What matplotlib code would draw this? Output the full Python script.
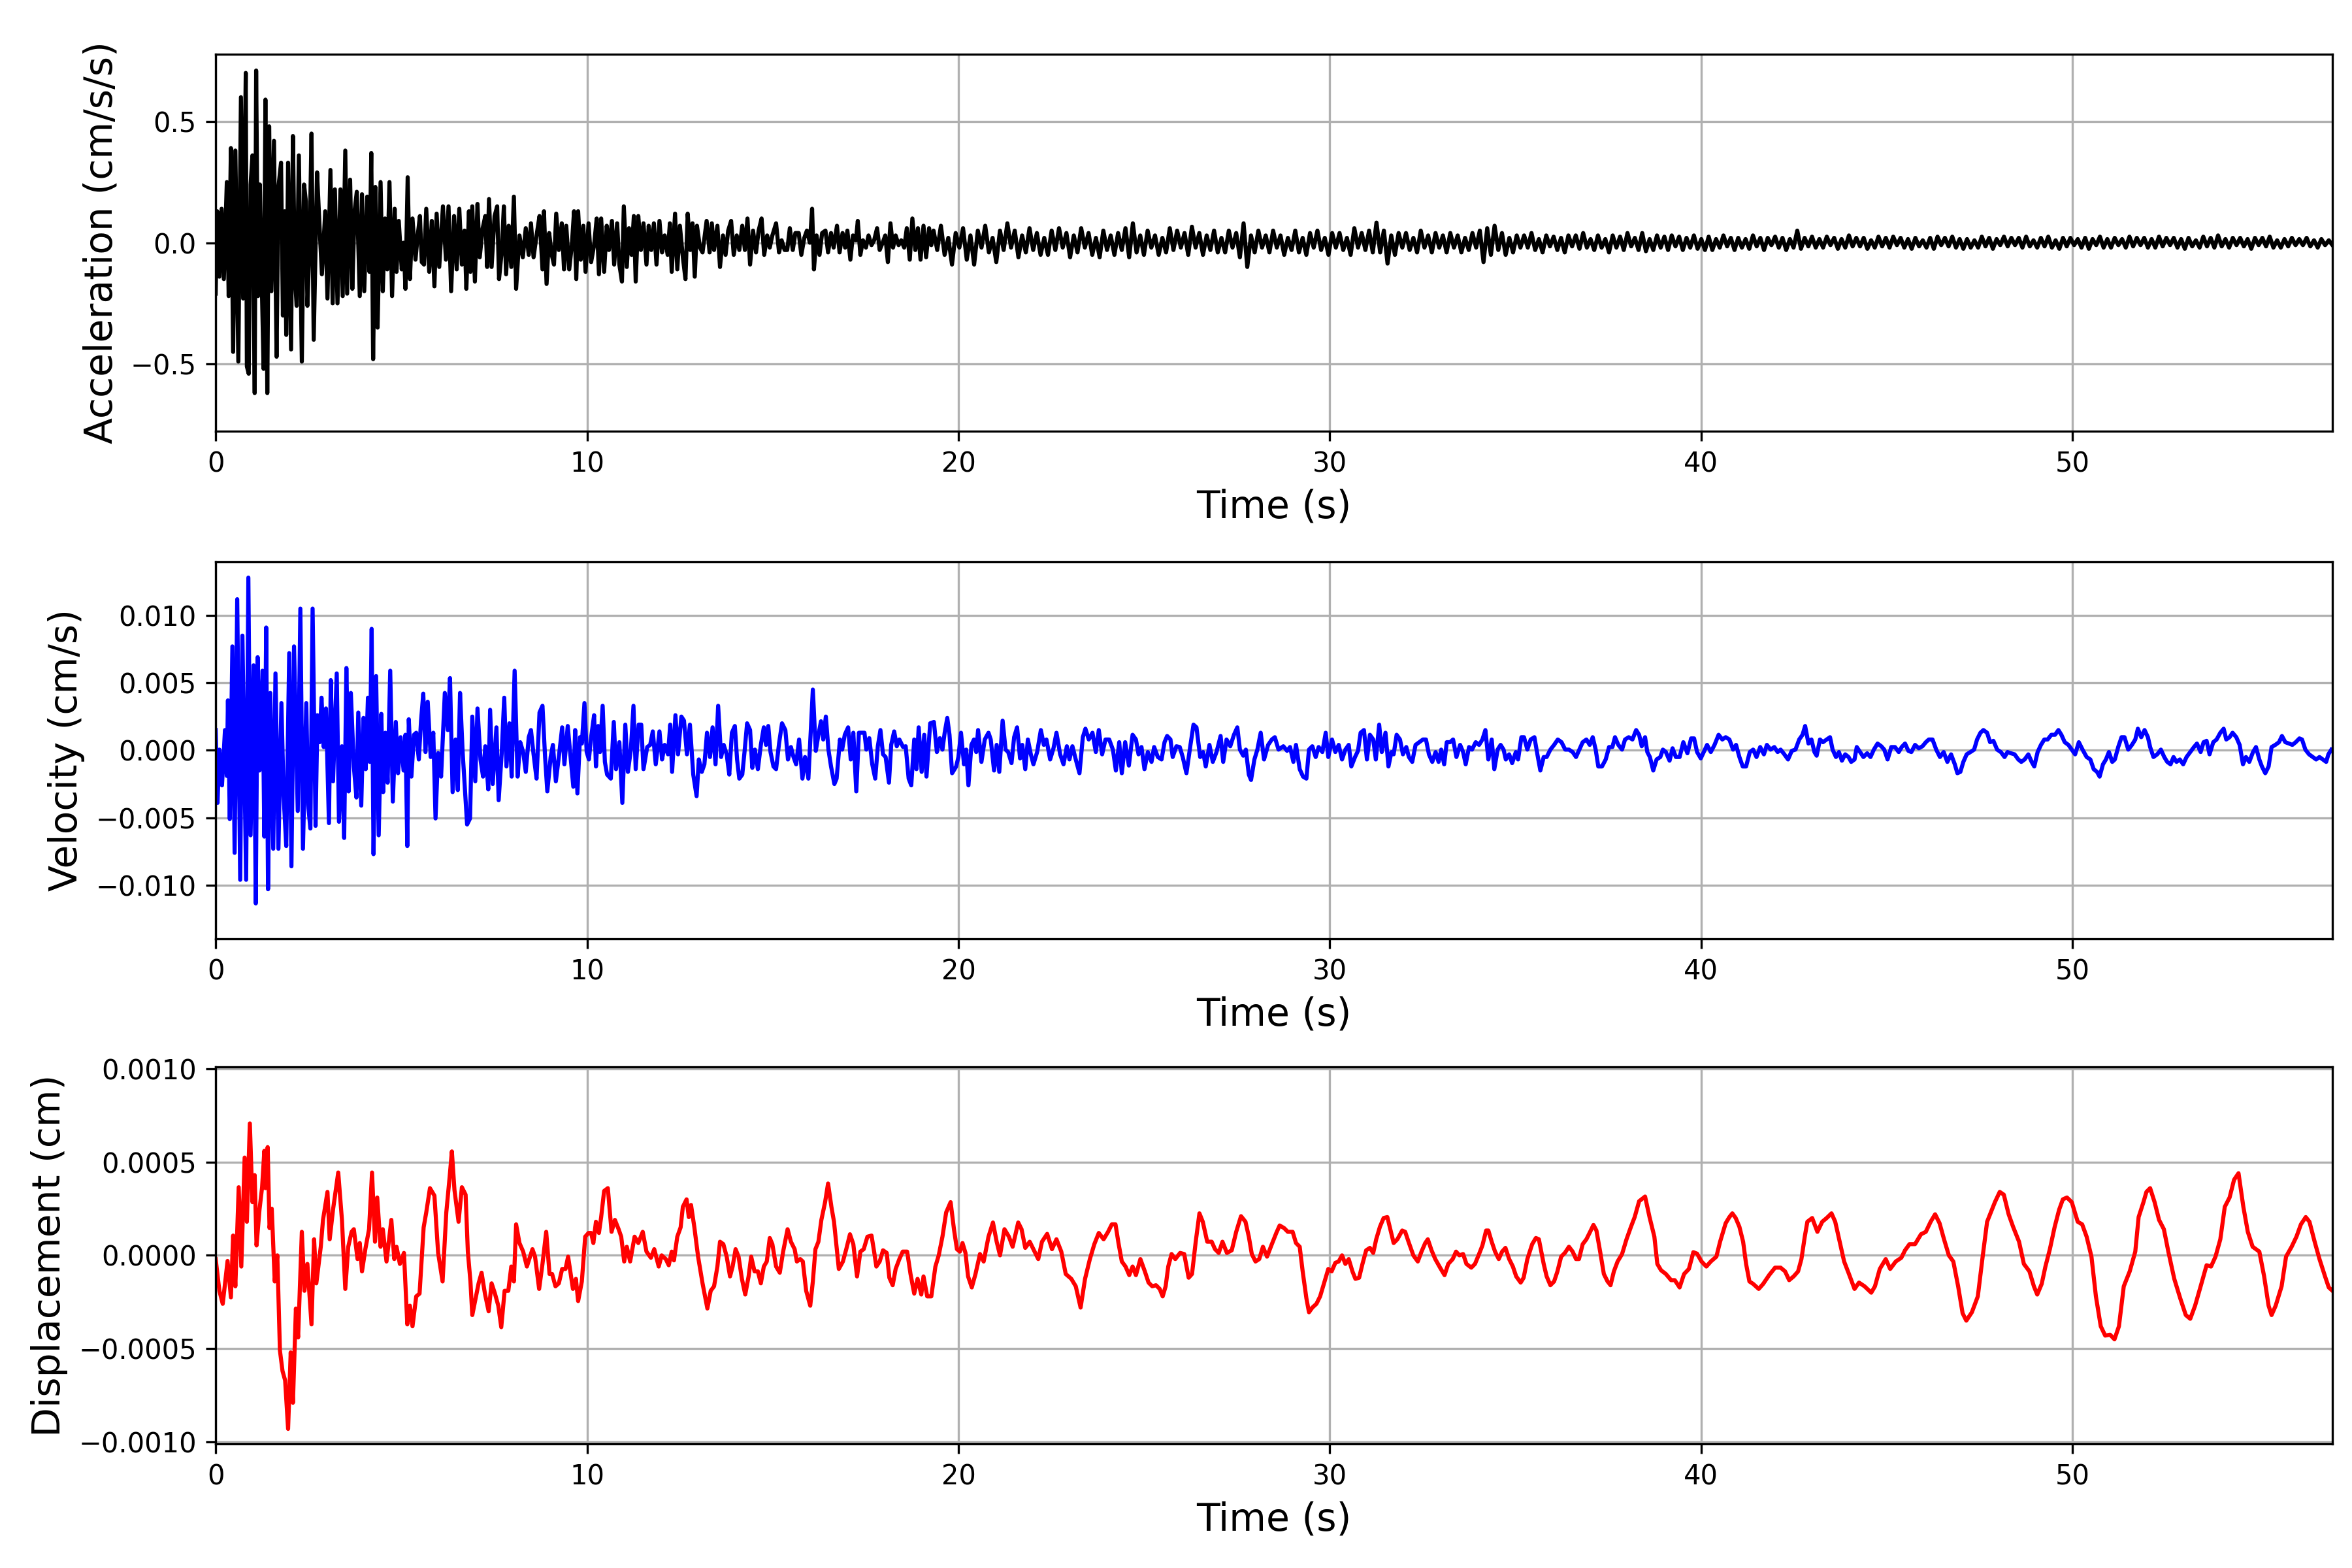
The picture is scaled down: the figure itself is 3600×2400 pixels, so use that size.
import numpy as np
import matplotlib
matplotlib.use("Agg")
import matplotlib.pyplot as plt

# ---------------- data ----------------
# Acceleration (cm/s/s), early strong-motion part: (time s, value)
acc_early = [
    (0.00,-0.21),(0.04,0.13),(0.10,-0.14),(0.16,0.14),(0.22,-0.15),(0.30,0.25),(0.35,-0.22),(0.41,0.39),
    (0.47,-0.45),(0.53,0.38),(0.61,-0.49),(0.68,0.60),(0.74,-0.23),(0.81,0.70),(0.84,-0.51),(0.89,-0.54),
    (0.94,0.24),(0.99,0.36),(1.05,-0.62),(1.09,0.71),(1.14,-0.22),(1.19,0.24),(1.25,-0.23),(1.29,-0.52),
    (1.34,0.59),(1.39,-0.62),(1.44,0.48),(1.50,-0.20),(1.57,0.42),(1.64,-0.47),(1.69,0.23),(1.76,0.33),
    (1.81,-0.30),(1.86,0.13),(1.90,-0.38),(1.95,0.33),(2.03,-0.44),(2.08,0.44),(2.13,-0.13),(2.18,-0.26),
    (2.24,0.36),(2.32,-0.49),(2.38,0.24),(2.43,0.17),(2.47,-0.26),(2.53,0.00),(2.58,0.45),(2.64,-0.40),
    (2.73,0.29),(2.79,0.09),(2.86,-0.13),(2.95,0.13),(3.01,-0.23),(3.09,0.30),(3.15,-0.25),(3.21,0.22),
    (3.28,-0.25),(3.36,0.22),(3.42,-0.22),(3.49,0.38),(3.54,-0.21),(3.62,0.26),(3.68,-0.19),(3.74,0.13),
    (3.80,0.21),(3.88,-0.22),(3.94,0.20),(4.00,-0.20),(4.08,0.19),(4.14,-0.12),(4.19,0.37),(4.24,-0.48),
    (4.30,0.23),(4.36,-0.35),(4.44,0.25),(4.50,-0.20),(4.56,0.10),(4.62,-0.11),(4.68,0.25),(4.75,-0.22),
    (4.82,0.14),(4.87,-0.12),(4.93,0.09),(5.01,-0.11),(5.06,0.00),(5.11,-0.19),(5.17,0.27),(5.23,-0.15),
    (5.30,0.10),(5.38,-0.07),(5.44,0.03),(5.50,0.11),(5.55,-0.08),(5.61,-0.09),(5.67,0.14),(5.75,-0.12),
    (5.82,0.09),(5.89,-0.18),(5.95,0.12),(6.02,-0.10),(6.12,0.15),(6.20,-0.07),(6.27,0.15),(6.34,-0.20),
    (6.42,0.11),(6.49,-0.11),(6.56,0.14),(6.63,-0.09),(6.70,0.05),(6.75,-0.19),(6.82,0.13),(6.86,-0.12),
    (6.91,0.15),(6.98,-0.16),(7.05,0.16),(7.11,-0.06),(7.19,0.06),(7.26,0.11),(7.31,-0.10),(7.36,0.18),
    (7.43,-0.10),(7.51,0.11),(7.58,0.15),(7.63,-0.15),(7.70,-0.04),(7.76,0.15),(7.82,-0.13),(7.89,0.07),
    (7.96,-0.10),(8.03,0.19),(8.09,-0.19),(8.18,0.03),(8.27,-0.06),(8.35,0.06),(8.43,-0.05),(8.49,0.08),
    (8.56,-0.06),(8.64,0.03),(8.72,0.11),(8.80,-0.11),(8.84,0.13),(8.91,-0.17),(8.98,0.04),(9.05,-0.05),
    (9.11,-0.09),(9.17,0.12),(9.24,-0.03),(9.32,0.08),(9.38,-0.11),(9.44,0.07),(9.52,-0.11),(9.59,-0.01),
    (9.65,0.13),(9.71,-0.15),(9.76,0.13),(9.83,-0.07),(9.90,0.07),(9.96,-0.12),(10.04,0.08),(10.11,-0.08),
    (10.19,-0.01),(10.26,0.10),(10.32,-0.13),(10.38,0.10),(10.46,-0.12),(10.53,0.07),(10.59,-0.03),(10.67,0.09),
    (10.73,-0.09),(10.81,0.08),(10.87,-0.09),(10.94,-0.16),(10.99,0.15),(11.07,-0.10),(11.13,0.06),(11.20,-0.05),
    (11.26,0.11),(11.31,-0.16),(11.38,0.11),(11.45,-0.03),(11.52,0.08),(11.60,-0.09),(11.66,0.07),(11.73,-0.03),
    (11.80,0.08),(11.87,-0.09),(11.95,0.09),(12.02,-0.04),(12.09,0.03),(12.17,-0.05),(12.23,0.08),(12.28,-0.12),
    (12.37,0.12),(12.43,-0.11),(12.50,0.07),(12.58,-0.06),(12.65,-0.15),(12.71,0.12),(12.78,-0.03),(12.84,0.08),
    (12.90,-0.14),(12.96,0.07),(13.04,-0.02),(13.11,-0.04),(13.22,0.09),(13.30,-0.04),(13.36,0.08),(13.42,-0.03),
    (13.51,0.07),(13.58,-0.10),(13.66,0.03),(13.73,-0.05),(13.80,0.05),(13.88,0.09),(13.95,-0.05),(14.03,0.03),
    (14.10,-0.03),(14.18,0.07),(14.25,-0.03),(14.32,0.10),(14.39,-0.09),(14.47,0.05),(14.55,-0.04),(14.62,0.05),
    (14.70,0.10),(14.77,-0.05),(14.85,0.03),(14.92,-0.02),(14.99,0.03),(15.09,0.08),(15.17,-0.04),(15.24,0.01),
    (15.32,-0.03),(15.39,-0.03),(15.46,0.06),(15.54,-0.03),(15.61,0.04),(15.70,0.04),(15.77,-0.05),(15.85,0.02),
    (15.92,0.05),(16.00,0.00),(16.06,0.14),(16.11,-0.11),(16.18,0.03),(16.26,-0.05),(16.33,0.04),(16.42,0.05),
    (16.49,-0.04),(16.57,0.04),(16.64,-0.02),(16.73,0.07),(16.80,-0.04),(16.88,0.04),(16.95,-0.02),(17.01,0.05),
    (17.09,-0.07),(17.16,0.03),(17.24,0.01),(17.29,0.09),(17.36,-0.05),(17.43,0.01),(17.51,-0.02),(17.58,0.03),
    (17.66,-0.01),(17.73,0.01),(17.81,0.06),(17.88,-0.03),(17.96,0.00),(18.03,0.03),(18.10,-0.08),(18.17,0.08),
    (18.24,-0.02),(18.31,0.03),(18.39,-0.01),(18.46,0.01),(18.54,-0.02),(18.61,0.06),(18.69,-0.07),(18.76,0.10),
    (18.84,-0.03),(18.91,0.06),(18.98,-0.07),(19.06,0.07),(19.13,-0.06),(19.21,0.06),(19.27,-0.01),
]

# Acceleration (cm/s/s), coda from 19.3 s to 57 s, read about every 0.1 s
acc_coda = [
    0.05,-0.03,0.07,-0.05,0.02,-0.09,0.04,-0.02,0.06,-0.07,
    0.03,-0.09,0.05,-0.02,0.07,-0.04,0.02,-0.08,0.05,-0.03,
    0.08,-0.02,0.05,-0.06,0.03,-0.04,0.06,-0.03,0.04,-0.05,
    0.02,-0.05,0.05,-0.03,0.06,-0.02,0.04,-0.06,0.03,-0.04,
    0.06,-0.02,0.04,-0.05,0.02,-0.06,0.05,-0.03,0.03,-0.05,
    0.04,-0.03,0.06,-0.06,0.08,-0.04,0.03,-0.05,0.05,-0.02,
    0.03,-0.05,0.02,-0.04,0.06,-0.03,0.05,-0.02,0.04,-0.05,
    0.066,-0.02,0.04,-0.05,0.03,-0.03,0.05,-0.04,0.02,-0.04,
    0.05,-0.02,0.04,-0.06,0.08,-0.10,0.03,-0.04,0.05,-0.02,
    0.03,-0.04,0.05,-0.02,0.03,-0.05,0.02,-0.03,0.05,-0.04,
    0.02,-0.05,0.04,-0.02,0.05,-0.03,0.02,-0.05,0.04,-0.02,
    0.04,-0.03,0.02,-0.05,0.06,-0.02,0.04,-0.03,0.05,-0.04,
    0.083,-0.04,0.05,-0.086,0.03,-0.05,0.04,-0.02,0.04,-0.03,
    0.02,-0.04,0.05,-0.02,0.03,-0.04,0.04,-0.02,0.03,-0.04,
    0.04,-0.02,0.03,-0.04,0.02,-0.03,0.04,-0.02,0.05,-0.08,
    0.06,-0.05,0.07,-0.03,0.04,-0.05,0.02,-0.04,0.03,-0.02,
    0.03,-0.02,0.04,-0.03,0.015,-0.04,0.03,-0.015,0.025,-0.03,
    0.02,-0.04,0.03,-0.015,0.03,-0.025,0.04,-0.02,0.015,-0.03,
    0.03,-0.02,0.015,-0.04,0.03,-0.02,0.025,-0.03,0.04,-0.015,
    0.02,-0.03,0.04,-0.035,0.015,-0.03,0.03,-0.02,0.025,-0.03,
    0.03,-0.015,0.025,-0.03,0.02,-0.02,0.03,-0.025,0.015,-0.03,
    0.025,-0.03,0.015,-0.02,0.03,-0.015,0.02,-0.03,0.02,-0.02,
    0.015,-0.025,0.03,-0.015,0.02,-0.03,0.02,-0.01,0.025,-0.02,
    0.02,-0.03,0.015,-0.02,0.05,-0.025,0.02,-0.015,0.025,-0.02,
    0.015,-0.02,0.025,-0.01,0.02,-0.025,0.015,-0.02,0.03,-0.015,
    0.02,-0.015,0.02,-0.025,0.01,-0.02,0.025,-0.015,0.02,-0.02,
    0.025,-0.01,0.02,-0.02,0.015,-0.025,0.02,-0.015,0.01,-0.02,
    0.02,-0.025,0.025,-0.01,0.02,-0.015,0.025,-0.02,0.015,-0.025,
    0.015,-0.02,0.01,-0.02,0.025,-0.015,0.02,-0.025,0.015,-0.01,
    0.025,-0.015,0.02,-0.01,0.02,-0.02,0.025,-0.015,0.01,-0.02,
    0.02,-0.015,0.025,-0.02,0.01,-0.025,0.02,-0.015,0.02,-0.01,
    0.015,-0.02,0.02,-0.025,0.015,-0.01,0.025,-0.02,0.015,-0.02,
    0.02,-0.01,0.015,-0.02,0.025,-0.015,0.02,-0.01,0.02,-0.02,
    0.015,-0.02,0.025,-0.015,0.02,-0.01,0.02,-0.02,0.015,-0.025,
    0.02,-0.015,0.01,-0.02,0.025,-0.015,0.02,-0.02,0.03,-0.015,
    0.015,-0.02,0.02,-0.01,0.02,-0.015,0.015,-0.025,0.02,-0.01,
    0.02,-0.015,0.025,-0.02,0.01,-0.02,0.015,-0.015,0.02,-0.01,
    0.015,-0.01,0.02,-0.015,0.01,-0.02,0.015,-0.01,0.01,-0.01,
]
acc_coda_start, acc_coda_end = 19.33, 57.0

# Velocity (1e-3 cm/s): (time s, value)
vel_pts = [
    (0.00,1.5),(0.05,-3.9),(0.10,0.05),(0.17,-2.6),(0.25,1.5),(0.30,-1.9),(0.33,3.7),(0.38,-5.1),
    (0.45,7.7),(0.51,-7.6),(0.58,11.2),(0.66,-9.6),(0.72,8.5),(0.82,-9.6),(0.88,12.8),(0.94,-6.3),
    (1.02,6.3),(1.08,-11.35),(1.13,6.9),(1.18,-1.5),(1.26,5.9),(1.31,-6.4),(1.36,9.1),(1.41,-10.3),
    (1.47,4.25),(1.55,-7.3),(1.61,5.7),(1.69,-7.3),(1.77,3.5),(1.83,-3.4),(1.90,-7.1),(1.98,7.2),
    (2.04,-8.6),(2.11,7.7),(2.21,-4.5),(2.28,10.5),(2.35,-7.3),(2.44,3.5),(2.49,-4.05),(2.55,-5.8),
    (2.61,10.5),(2.69,-5.6),(2.74,2.6),(2.80,0.6),(2.85,3.9),(2.91,0.24),(2.97,3.1),(3.05,-5.4),
    (3.10,5.2),(3.16,-2.3),(3.26,5.7),(3.32,-5.3),(3.40,0.3),(3.46,-6.5),(3.52,6.1),(3.58,-3.05),
    (3.64,4.25),(3.72,-1.2),(3.79,-3.5),(3.84,2.8),(3.92,-4.1),(3.98,2.4),(4.04,-1.4),(4.10,3.9),
    (4.15,-0.86),(4.20,9.0),(4.25,-7.7),(4.32,5.5),(4.39,-6.3),(4.46,2.7),(4.51,-3.1),(4.57,1.3),
    (4.63,-2.4),(4.70,5.9),(4.77,-3.8),(4.85,2.1),(4.91,-1.7),(4.98,0.97),(5.06,-1.5),(5.11,1.15),
    (5.16,-7.1),(5.20,2.3),(5.27,-1.95),(5.34,1.15),(5.40,1.3),(5.47,-0.68),(5.53,2.2),(5.59,4.2),
    (5.65,-0.13),(5.71,3.6),(5.79,-0.5),(5.86,1.3),(5.92,-5.05),(5.99,-0.2),(6.07,-1.95),(6.17,4.25),
    (6.25,1.5),(6.31,5.35),(6.38,-3.1),(6.46,0.8),(6.52,-2.95),(6.58,4.25),(6.65,-0.13),(6.77,-5.5),
    (6.85,-5.05),(6.91,2.5),(6.99,-2.3),(7.05,3.1),(7.13,-0.68),(7.20,-1.95),(7.26,0.3),(7.34,-2.9),
    (7.39,3.0),(7.46,-2.5),(7.56,1.7),(7.62,-3.7),(7.70,-0.3),(7.77,3.9),(7.83,-1.2),(7.91,2.0),
    (7.97,-1.95),(8.05,5.9),(8.13,-1.95),(8.20,0.6),(8.28,-0.13),(8.35,-1.6),(8.43,0.97),(8.49,1.5),
    (8.56,-0.3),(8.64,-2.1),(8.72,2.8),(8.80,3.3),(8.87,-0.5),(8.93,-3.05),(9.02,-0.5),(9.08,0.4),
    (9.16,-2.3),(9.24,-0.5),(9.33,1.7),(9.39,-1.04),(9.48,1.8),(9.55,-0.3),(9.63,-2.7),(9.68,1.5),
    (9.74,-3.2),(9.81,0.97),(9.86,0.5),(9.93,3.5),(9.99,-0.13),(10.05,-0.68),(10.11,0.97),(10.19,2.6),
    (10.24,-1.2),(10.30,1.8),(10.35,-0.13),(10.42,3.3),(10.48,-0.86),(10.54,-1.8),(10.64,-2.1),(10.72,2.1),
    (10.78,-1.4),(10.87,0.6),(10.95,-3.9),(11.03,1.9),(11.10,-1.6),(11.18,0.05),(11.25,3.3),(11.31,-1.4),
    (11.39,1.9),(11.46,1.9),(11.52,-1.4),(11.62,0.24),(11.70,0.4),(11.77,1.4),(11.85,-1.04),(11.95,1.4),
    (12.02,-0.68),(12.09,0.4),(12.18,-0.3),(12.24,1.9),(12.29,-1.6),(12.38,2.6),(12.45,-0.3),(12.54,2.5),
    (12.61,2.2),(12.69,-0.3),(12.77,1.9),(12.86,-1.8),(12.95,-3.4),(13.01,-0.68),(13.09,-1.6),(13.16,-1.04),
    (13.23,1.3),(13.31,-0.5),(13.38,1.7),(13.46,-1.04),(13.53,3.3),(13.61,-0.5),(13.68,0.4),(13.76,-0.3),
    (13.83,-1.8),(13.90,1.3),(13.98,1.8),(14.04,-0.68),(14.10,-2.1),(14.18,-1.8),(14.24,-0.13),(14.31,2.0),
    (14.39,1.5),(14.45,-1.3),(14.52,0.05),(14.60,-1.4),(14.68,0.4),(14.76,1.7),(14.82,0.4),(14.88,1.8),
    (14.94,-0.13),(15.02,-1.2),(15.09,-1.4),(15.17,0.5),(15.25,2.0),(15.34,1.5),(15.41,-0.68),(15.49,0.24),
    (15.56,-0.5),(15.63,-1.04),(15.71,0.8),(15.80,-2.1),(15.87,-0.5),(15.96,-2.1),(16.08,4.5),(16.16,-0.04),
    (16.23,1.15),(16.30,2.15),(16.36,0.8),(16.43,2.5),(16.50,0.05),(16.57,-1.2),(16.66,-2.5),(16.72,-2.1),
    (16.81,0.8),(16.87,0.05),(16.94,1.15),(17.03,1.7),(17.10,-0.68),(17.17,1.3),(17.25,-3.05),(17.32,1.3),
    (17.39,1.3),(17.47,1.3),(17.52,0.05),(17.60,0.9),(17.68,-1.04),(17.76,-2.1),(17.83,0.3),(17.90,1.5),
    (17.97,-0.3),(18.04,-0.5),(18.13,-2.4),(18.19,0.4),(18.27,1.4),(18.34,0.3),(18.41,0.8),(18.51,0.24),
    (18.58,0.3),(18.66,-2.1),(18.73,-2.6),(18.81,0.8),(18.87,-1.4),(18.93,1.7),(19.01,-1.6),(19.08,1.15),
    (19.14,-1.95),(19.24,2.0),(19.34,2.1),(19.42,-0.13),(19.50,0.9),(19.57,0.05),(19.63,1.3),(19.70,2.4),
    (19.76,1.15),(19.83,-1.7),(19.94,-1.2),(20.00,-0.5),(20.07,1.3),(20.15,-1.04),(20.21,0.05),(20.27,-2.6),
    (20.35,0.4),(20.42,0.8),(20.48,-0.13),(20.53,1.5),(20.62,-0.86),(20.71,0.8),(20.81,1.3),(20.87,0.8),
    (20.96,-1.5),(21.03,0.4),(21.10,-1.6),(21.19,2.2),(21.27,0.05),(21.34,-0.13),(21.43,-0.95),(21.50,0.97),
    (21.58,1.7),(21.66,-0.6),(21.72,0.4),(21.80,-1.4),(21.87,0.8),(21.95,-0.3),(22.02,-1.04),(22.12,-0.13),
    (22.22,1.5),(22.30,0.4),(22.37,0.8),(22.47,-0.68),(22.56,0.15),(22.64,1.3),(22.74,-0.3),(22.83,-1.04),
    (22.92,0.3),(22.99,-0.68),(23.07,0.3),(23.16,-0.68),(23.26,-1.7),(23.35,0.97),(23.42,1.6),(23.51,0.8),
    (23.61,1.3),(23.70,-0.13),(23.78,1.5),(23.87,-0.3),(23.96,0.8),(24.06,0.8),(24.16,0.05),(24.24,-1.5),
    (24.33,0.6),(24.40,-1.7),(24.49,0.6),(24.59,-1.13),(24.69,1.15),(24.78,0.8),(24.85,-0.3),(24.93,0.24),
    (25.01,-1.4),(25.10,-0.13),(25.20,-0.86),(25.27,0.24),(25.37,-0.5),(25.47,-0.68),(25.55,0.6),(25.62,1.06),
    (25.71,0.8),(25.77,-0.5),(25.87,0.3),(25.96,0.24),(26.04,-0.5),(26.14,-1.7),(26.24,0.24),(26.33,1.9),
    (26.41,1.7),(26.51,-0.5),(26.59,-0.13),(26.66,-1.2),(26.76,0.4),(26.85,-0.86),(26.95,-0.13),(27.06,1.06),
    (27.13,-0.86),(27.22,0.8),(27.32,0.3),(27.42,1.15),(27.51,1.7),(27.58,0.05),(27.67,-0.4),(27.74,0.05),
    (27.82,-1.8),(27.88,-2.2),(27.97,-0.68),(28.05,0.05),(28.14,1.3),(28.23,-0.68),(28.34,0.4),(28.44,0.8),
    (28.52,0.97),(28.62,0.05),(28.75,0.3),(28.85,-0.04),(28.93,0.24),(29.02,-0.86),(29.09,0.4),(29.19,-1.4),
    (29.28,-1.95),(29.37,-2.1),(29.44,0.05),(29.53,0.3),(29.62,-0.5),(29.70,0.24),(29.80,-0.13),(29.89,1.3),
    (29.96,-0.5),(30.06,0.8),(30.15,-0.13),(30.24,0.4),(30.33,-0.68),(30.42,0.05),(30.51,0.4),(30.58,-1.2),
    (30.68,-0.5),(30.76,-0.04),(30.83,1.3),(30.92,1.5),(31.00,-0.68),(31.08,1.15),(31.17,0.8),(31.24,-0.68),
    (31.33,1.9),(31.40,-0.13),(31.50,1.3),(31.58,-1.2),(31.66,-0.13),(31.72,-0.3),(31.80,1.15),(31.89,0.8),
    (31.97,-0.3),(32.06,0.24),(32.13,-0.5),(32.22,-0.86),(32.31,0.4),(32.41,0.6),(32.51,0.8),(32.59,0.8),
    (32.67,-0.3),(32.76,-0.86),(32.85,-0.13),(32.93,-0.86),(33.00,0.05),(33.08,-1.04),(33.15,0.6),(33.24,0.6),
    (33.32,0.8),(33.41,-0.5),(33.51,0.4),(33.59,-0.13),(33.66,-1.04),(33.75,0.24),(33.83,0.05),(33.93,0.6),
    (34.02,0.4),(34.11,0.8),(34.19,1.5),(34.27,-0.68),(34.36,0.8),(34.43,-1.4),(34.52,0.05),(34.60,0.4),
    (34.68,0.05),(34.74,-0.68),(34.83,-0.3),(34.91,-0.95),(35.01,-0.13),(35.07,-0.68),(35.16,0.97),(35.23,0.97),
    (35.32,0.05),(35.41,0.8),(35.51,0.97),(35.59,-0.3),(35.67,-1.5),(35.76,-0.5),(35.84,-0.5),(35.94,0.05),
    (36.04,0.4),(36.14,0.8),(36.24,0.6),(36.34,0.05),(36.44,0.05),(36.54,-0.13),(36.63,-0.5),(36.72,0.05),
    (36.81,0.6),(36.91,0.8),(37.00,0.4),(37.08,0.97),(37.16,0.05),(37.23,-1.2),(37.33,-1.2),(37.43,-0.68),
    (37.52,0.24),(37.61,0.24),(37.68,0.97),(37.77,0.4),(37.87,0.05),(37.95,0.8),(38.05,0.97),(38.15,0.8),
    (38.25,1.5),(38.33,1.15),(38.40,0.3),(38.49,0.97),(38.55,-0.13),(38.62,-0.5),(38.71,-1.5),(38.80,-0.68),
    (38.90,-0.5),(38.97,0.05),(39.05,-0.13),(39.15,-0.77),(39.23,0.15),(39.32,-0.5),(39.42,-0.5),(39.52,0.6),
    (39.63,-0.22),(39.73,0.88),(39.81,0.88),(39.89,-0.13),(39.99,-0.6),(40.07,-0.13),(40.16,0.4),(40.26,-0.13),
    (40.36,0.4),(40.47,1.15),(40.57,0.8),(40.66,0.97),(40.76,0.8),(40.86,0.05),(40.94,0.4),(41.03,-0.5),
    (41.12,-1.2),(41.21,-1.2),(41.31,-0.13),(41.40,0.05),(41.49,-0.5),(41.59,0.24),(41.69,-0.3),(41.77,0.4),
    (41.87,0.05),(41.97,0.24),(42.06,-0.13),(42.14,0.05),(42.24,-0.3),(42.34,-0.68),(42.44,-0.04),(42.54,0.05),
    (42.64,0.8),(42.73,1.15),(42.80,1.8),(42.89,0.5),(42.97,0.8),(43.05,-0.13),(43.11,-0.4),(43.20,0.8),
    (43.28,0.6),(43.38,0.8),(43.47,0.97),(43.54,0.05),(43.63,-0.5),(43.71,-0.13),(43.79,-0.77),(43.88,-0.3),
    (43.97,-0.5),(44.04,-0.86),(44.13,-0.68),(44.19,0.24),(44.28,-0.13),(44.37,-0.5),(44.47,-0.22),(44.56,-0.5),
    (44.65,0.05),(44.75,0.5),(44.85,0.3),(44.93,0.05),(45.02,-0.68),(45.12,0.24),(45.22,0.24),(45.32,-0.13),
    (45.40,0.24),(45.49,0.5),(45.58,-0.04),(45.66,-0.13),(45.76,0.4),(45.86,0.15),(45.96,0.3),(46.05,0.6),
    (46.13,0.8),(46.23,0.8),(46.33,0.05),(46.43,-0.5),(46.53,-0.13),(46.63,-0.86),(46.73,-0.3),(46.83,-1.04),
    (46.90,-1.7),(46.98,-1.6),(47.06,-0.86),(47.15,-0.3),(47.25,-0.13),(47.35,0.05),(47.43,0.8),(47.52,1.3),
    (47.60,1.5),(47.70,1.3),(47.78,0.6),(47.87,0.7),(47.97,0.05),(48.07,-0.13),(48.17,-0.5),(48.25,-0.13),
    (48.34,-0.22),(48.44,-0.3),(48.54,-0.68),(48.62,-0.86),(48.71,-0.68),(48.81,-0.3),(48.90,-0.86),(48.97,-1.2),
    (49.06,-0.13),(49.15,0.4),(49.24,0.8),(49.33,0.8),(49.43,1.15),(49.53,1.15),(49.62,1.5),(49.70,1.15),
    (49.79,0.6),(49.89,0.4),(49.98,0.05),(50.07,-0.3),(50.17,0.6),(50.27,0.05),(50.38,-0.5),(50.48,-0.68),
    (50.57,-1.4),(50.66,-1.6),(50.73,-1.95),(50.82,-1.04),(50.90,-0.68),(50.98,-0.13),(51.07,-0.86),(51.14,-0.68),
    (51.23,0.24),(51.32,0.97),(51.40,0.97),(51.50,0.05),(51.60,0.4),(51.69,0.8),(51.76,1.6),(51.85,0.97),
    (51.94,1.5),(52.03,0.97),(52.09,0.24),(52.18,-0.5),(52.28,-0.3),(52.38,0.05),(52.47,-0.5),(52.55,-0.86),
    (52.64,-1.04),(52.72,-0.5),(52.80,-0.86),(52.89,-0.68),(52.98,-1.04),(53.07,-0.5),(53.17,-0.13),(53.27,0.24),
    (53.35,0.5),(53.45,-0.13),(53.53,0.6),(53.61,0.7),(53.69,-0.3),(53.79,0.6),(53.88,0.8),(53.98,1.3),
    (54.07,1.6),(54.14,0.8),(54.23,0.97),(54.31,1.3),(54.41,0.97),(54.50,0.4),(54.59,-1.04),(54.67,-0.5),
    (54.76,-0.86),(54.86,-0.13),(54.94,0.24),(55.03,-0.68),(55.10,-1.2),(55.19,-1.7),(55.28,-1.2),(55.36,0.24),
    (55.46,0.4),(55.56,0.6),(55.64,1.06),(55.73,0.6),(55.83,0.5),(55.92,0.4),(56.01,0.6),(56.11,0.88),
    (56.18,0.8),(56.27,0.05),(56.37,-0.3),(56.47,-0.5),(56.56,-0.68),(56.65,-0.5),(56.74,-0.68),(56.83,-0.86),
    (56.89,-0.3),(56.97,0.05),
]

# Displacement (1e-4 cm): (time s, value)
disp_pts = [
    (0.00,-0.2),(0.10,-1.9),(0.19,-2.6),(0.32,-0.3),(0.41,-2.25),(0.47,1.06),(0.53,-1.66),(0.62,3.65),
    (0.69,-0.6),(0.78,5.24),(0.84,1.8),(0.92,7.07),(0.99,2.85),(1.05,4.3),(1.10,0.53),(1.18,2.45),
    (1.25,3.65),(1.31,5.6),(1.34,3.6),(1.40,5.8),(1.45,1.46),(1.51,2.5),(1.59,-1.4),(1.66,0.0),
    (1.73,-5.1),(1.80,-6.2),(1.87,-6.7),(1.95,-9.3),(2.02,-5.2),(2.08,-7.9),(2.16,-2.85),(2.22,-4.4),
    (2.32,1.26),(2.39,-1.9),(2.47,-0.46),(2.58,-3.7),(2.65,0.86),(2.71,-1.5),(2.83,0.46),(2.89,1.9),
    (3.01,3.4),(3.07,0.86),(3.16,2.45),(3.30,4.44),(3.40,1.9),(3.49,-1.8),(3.57,0.46),(3.66,1.26),
    (3.72,1.4),(3.82,-0.2),(3.88,0.66),(3.94,-0.86),(4.03,0.33),(4.13,1.4),(4.21,4.44),(4.29,0.73),
    (4.35,3.1),(4.44,0.46),(4.50,1.4),(4.60,-0.33),(4.73,1.9),(4.81,-0.2),(4.87,0.46),(4.96,-0.46),
    (5.07,0.13),(5.16,-3.7),(5.23,-2.7),(5.30,-3.8),(5.40,-2.2),(5.49,-2.05),(5.60,1.5),(5.67,2.3),
    (5.77,3.6),(5.89,3.2),(5.99,0.13),(6.11,-1.4),(6.21,2.3),(6.30,4.2),(6.36,5.57),(6.43,3.5),
    (6.54,1.8),(6.63,3.65),(6.73,3.25),(6.79,0.2),(6.86,-1.4),(6.91,-3.2),(7.00,-2.3),(7.08,-1.5),
    (7.16,-0.93),(7.25,-2.05),(7.35,-3.0),(7.43,-1.5),(7.52,-2.05),(7.61,-2.7),(7.69,-3.85),(7.78,-1.9),
    (7.88,-1.9),(7.96,-0.6),(8.03,-1.4),(8.09,1.66),(8.18,0.66),(8.28,0.2),(8.38,-0.6),(8.53,0.33),
    (8.60,-0.07),(8.71,-1.8),(8.80,-0.46),(8.90,1.26),(8.99,-1.0),(9.06,-1.0),(9.15,-1.66),(9.24,-1.5),
    (9.33,-0.73),(9.42,-0.73),(9.49,-0.07),(9.62,-1.8),(9.70,-1.26),(9.76,-2.45),(9.86,-1.4),(9.95,1.0),
    (10.04,1.2),(10.11,1.2),(10.17,0.66),(10.24,1.8),(10.32,1.2),(10.38,2.05),(10.46,3.45),(10.56,3.6),
    (10.66,1.26),(10.75,1.9),(10.85,1.4),(10.92,1.0),(11.00,-0.33),(11.07,0.46),(11.16,-0.33),(11.28,1.0),
    (11.38,0.66),(11.50,1.26),(11.60,0.2),(11.72,-0.13),(11.81,0.33),(11.93,-0.6),(12.01,0.0),(12.12,-0.2),
    (12.20,-0.53),(12.28,0.2),(12.34,-0.27),(12.43,1.0),(12.52,1.5),(12.58,2.6),(12.68,3.0),(12.74,2.05),
    (12.80,2.7),(12.89,1.5),(12.99,-0.07),(13.11,-1.5),(13.24,-2.85),(13.33,-1.9),(13.42,-1.66),(13.51,-0.6),
    (13.58,0.73),(13.67,0.6),(13.76,-0.07),(13.85,-1.13),(13.92,-0.6),(14.00,0.33),(14.08,-0.07),(14.17,-1.26),
    (14.26,-2.1),(14.35,-1.13),(14.42,-0.07),(14.51,-0.86),(14.60,-0.86),(14.68,-1.5),(14.76,-0.6),(14.84,-0.33),
    (14.92,0.93),(14.99,0.6),(15.09,-0.6),(15.19,-0.93),(15.28,0.2),(15.40,1.4),(15.49,0.73),(15.59,0.33),
    (15.65,-0.33),(15.74,-0.2),(15.81,-0.33),(15.90,-1.9),(16.01,-2.7),(16.08,-1.4),(16.15,0.33),(16.23,0.73),
    (16.31,1.9),(16.41,2.85),(16.49,3.85),(16.58,2.6),(16.65,1.8),(16.78,-0.73),(16.89,-0.33),(16.98,0.33),
    (17.08,1.13),(17.17,0.6),(17.27,-1.13),(17.36,0.2),(17.45,0.33),(17.55,1.0),(17.66,1.06),(17.73,0.2),
    (17.79,-0.6),(17.88,-0.33),(17.97,0.27),(18.07,0.13),(18.14,-1.2),(18.23,-1.6),(18.31,-0.73),(18.41,-0.2),
    (18.50,0.2),(18.62,0.2),(18.71,-1.0),(18.81,-2.05),(18.90,-1.26),(19.00,-2.1),(19.06,-1.13),(19.16,-2.2),
    (19.27,-2.2),(19.38,-0.6),(19.47,0.0),(19.57,1.0),(19.67,2.3),(19.79,2.85),(19.88,1.4),(19.96,0.33),
    (20.04,0.2),(20.11,0.66),(20.19,0.13),(20.26,-1.13),(20.36,-1.72),(20.46,-1.0),(20.58,0.07),(20.68,-0.33),
    (20.81,1.0),(20.93,1.76),(21.03,0.73),(21.12,0.0),(21.24,1.4),(21.36,1.0),(21.46,0.46),(21.61,1.76),
    (21.70,1.4),(21.80,0.4),(21.92,0.73),(22.05,0.2),(22.15,-0.2),(22.25,0.73),(22.39,1.15),(22.52,0.33),
    (22.64,0.86),(22.77,0.2),(22.89,-1.0),(23.04,-1.26),(23.16,-1.66),(23.29,-2.8),(23.41,-1.26),(23.54,-0.2),
    (23.66,0.6),(23.78,1.2),(23.91,0.86),(24.03,1.26),(24.13,1.66),(24.23,1.66),(24.31,0.66),(24.40,-0.33),
    (24.50,-0.6),(24.60,-1.06),(24.69,-0.6),(24.78,-1.06),(24.90,-0.2),(25.02,-0.86),(25.12,-1.46),(25.22,-1.66),
    (25.32,-1.6),(25.42,-1.8),(25.50,-2.2),(25.58,-1.66),(25.65,-0.6),(25.74,0.07),(25.84,-0.2),(25.97,0.13),
    (26.08,0.07),(26.20,-1.2),(26.29,-1.0),(26.39,0.73),(26.49,2.25),(26.58,1.8),(26.70,0.73),(26.82,0.73),
    (26.91,0.33),(27.01,0.13),(27.11,0.73),(27.23,0.13),(27.36,0.27),(27.48,1.26),(27.61,2.1),(27.73,1.8),
    (27.82,1.0),(27.90,0.07),(28.00,-0.33),(28.10,-0.2),(28.20,0.46),(28.31,-0.07),(28.44,0.6),(28.56,1.2),
    (28.65,1.6),(28.77,1.46),(28.87,1.26),(29.00,1.26),(29.09,0.66),(29.19,0.46),(29.27,-0.86),(29.37,-2.3),
    (29.44,-3.05),(29.53,-2.8),(29.64,-2.6),(29.74,-2.2),(29.86,-1.4),(29.96,-0.73),(30.05,-0.86),(30.15,-0.4),
    (30.24,-0.33),(30.33,0.0),(30.42,-0.46),(30.51,-0.2),(30.61,-0.86),(30.69,-1.26),(30.79,-1.2),(30.88,-0.46),
    (30.98,0.27),(31.08,0.4),(31.17,0.13),(31.25,0.86),(31.35,1.53),(31.45,2.0),(31.55,2.05),(31.63,1.4),
    (31.72,0.66),(31.82,0.86),(31.95,1.33),(32.03,1.26),(32.12,0.73),(32.25,0.0),(32.37,-0.33),(32.47,0.2),
    (32.57,0.66),(32.64,0.86),(32.74,0.27),(32.84,-0.2),(32.97,-0.66),(33.09,-1.06),(33.19,-0.46),(33.31,-0.2),
    (33.40,0.2),(33.49,0.0),(33.59,0.07),(33.68,-0.46),(33.81,-0.66),(33.91,-0.46),(34.02,0.07),(34.11,0.53),
    (34.21,1.33),(34.27,1.33),(34.36,0.73),(34.45,0.2),(34.55,-0.2),(34.64,0.2),(34.73,0.4),(34.83,-0.2),
    (34.93,-0.6),(35.02,-1.13),(35.14,-1.46),(35.22,-1.2),(35.32,-0.2),(35.45,0.6),(35.55,0.93),(35.63,0.86),
    (35.76,-0.46),(35.84,-1.13),(35.94,-1.6),(36.04,-1.4),(36.13,-0.86),(36.23,-0.07),(36.33,0.13),(36.44,0.46),
    (36.54,0.2),(36.63,-0.2),(36.71,-0.2),(36.81,0.6),(36.91,0.86),(37.01,1.26),(37.10,1.63),(37.18,1.33),
    (37.28,0.2),(37.38,-1.0),(37.48,-1.4),(37.56,-1.6),(37.65,-0.86),(37.75,-0.33),(37.87,0.07),(37.99,0.86),
    (38.11,1.53),(38.21,2.05),(38.33,2.9),(38.49,3.15),(38.61,2.05),(38.74,1.0),(38.82,-0.46),(38.92,-0.8),
    (39.05,-1.0),(39.19,-1.33),(39.29,-1.33),(39.42,-1.72),(39.54,-1.0),(39.67,-0.73),(39.79,0.17),(39.89,0.09),
    (40.01,-0.33),(40.14,-0.6),(40.26,-0.33),(40.41,-0.07),(40.51,0.73),(40.66,1.72),(40.76,2.05),(40.84,2.25),
    (40.93,2.0),(41.03,1.53),(41.13,0.73),(41.21,-0.46),(41.30,-1.4),(41.40,-1.53),(41.55,-1.8),(41.67,-1.53),
    (41.83,-1.06),(41.99,-0.66),(42.14,-0.66),(42.26,-0.86),(42.37,-1.33),(42.49,-1.13),(42.61,-0.86),(42.70,-0.2),
    (42.79,1.0),(42.86,1.8),(42.99,2.0),(43.13,1.26),(43.26,1.8),(43.38,2.0),(43.51,2.25),(43.61,1.8),
    (43.73,0.73),(43.85,-0.33),(43.98,-1.0),(44.13,-1.8),(44.25,-1.46),(44.40,-1.66),(44.58,-2.0),(44.68,-1.66),
    (44.81,-0.73),(44.97,-0.2),(45.09,-0.73),(45.24,-0.33),(45.39,-0.13),(45.49,0.27),(45.61,0.6),(45.76,0.6),
    (45.92,1.13),(46.05,1.26),(46.18,1.8),(46.30,2.2),(46.42,1.72),(46.54,0.86),(46.67,0.0),(46.79,-0.33),
    (46.92,-1.66),(47.04,-3.1),(47.14,-3.5),(47.29,-3.05),(47.45,-2.2),(47.58,-0.07),(47.70,1.8),(47.80,2.3),
    (47.91,2.85),(48.04,3.4),(48.15,3.25),(48.28,2.2),(48.40,1.53),(48.56,0.73),(48.69,-0.46),(48.84,-0.86),
    (48.96,-1.66),(49.05,-2.1),(49.17,-1.53),(49.27,-0.6),(49.39,0.33),(49.52,1.53),(49.64,2.45),(49.74,3.0),
    (49.85,3.1),(49.98,2.85),(50.14,1.8),(50.26,1.66),(50.38,1.0),(50.51,-0.07),(50.63,-2.2),(50.76,-3.8),
    (50.88,-4.3),(51.01,-4.25),(51.13,-4.5),(51.25,-3.8),(51.38,-1.66),(51.54,-0.86),(51.69,0.2),(51.78,2.05),
    (51.91,2.85),(51.99,3.4),(52.09,3.6),(52.21,2.85),(52.33,1.9),(52.46,1.4),(52.58,0.2),(52.74,-1.26),
    (52.90,-2.3),(53.05,-3.2),(53.17,-3.4),(53.30,-2.7),(53.45,-1.66),(53.61,-0.53),(53.73,-0.6),(53.85,-0.07),
    (53.98,0.86),(54.10,2.6),(54.23,3.1),(54.35,4.05),(54.47,4.4),(54.60,2.6),(54.72,1.26),(54.85,0.46),
    (55.03,0.2),(55.16,-1.13),(55.28,-2.7),(55.36,-3.2),(55.47,-2.7),(55.63,-1.66),(55.75,-0.07),(55.90,0.46),
    (56.03,1.0),(56.15,1.66),(56.28,2.05),(56.38,1.8),(56.52,0.73),(56.65,-0.2),(56.80,-1.13),(56.90,-1.72),
    (57.00,-1.9),
]

x_ticks = [0, 10, 20, 30, 40, 50]
acc_ticks = [-0.5, 0.0, 0.5]
vel_ticks = [-0.010, -0.005, 0.000, 0.005, 0.010]
disp_ticks = [-0.0010, -0.0005, 0.0000, 0.0005, 0.0010]

# ---------------- assemble series ----------------
acc_t = [p[0] for p in acc_early] + list(np.linspace(acc_coda_start, acc_coda_end, len(acc_coda)))
acc_v = [p[1] for p in acc_early] + acc_coda
vel_t = [p[0] for p in vel_pts]
vel_v = [p[1] * 1e-3 for p in vel_pts]
disp_t = [p[0] for p in disp_pts]
disp_v = [p[1] * 1e-4 for p in disp_pts]

# ---------------- figure ----------------
fig = plt.figure(figsize=(12, 8), dpi=300)
left, width, height = 0.0917, 0.9, 0.2404
ax1 = fig.add_axes([left, 0.725, width, height])
ax2 = fig.add_axes([left, 0.4013, width, height])
ax3 = fig.add_axes([left, 0.0792, width, height])

panels = [
    (ax1, acc_t, acc_v, 'black', 'Acceleration (cm/s/s)', 0.777, acc_ticks),
    (ax2, vel_t, vel_v, 'blue', 'Velocity (cm/s)', 0.01397, vel_ticks),
    (ax3, disp_t, disp_v, 'red', 'Displacement (cm)', 0.00101, disp_ticks),
]
for ax, t, v, c, lab, lim, yt in panels:
    ax.plot(t, v, color=c, lw=1.5)
    ax.set_xlim(0, 57.0)
    ax.set_ylim(-lim, lim)
    ax.set_xticks(x_ticks)
    ax.set_yticks(yt)
    ax.set_xlabel('Time (s)', fontsize=14)
    ax.set_ylabel(lab, fontsize=14)
    ax.grid(True)
    ax.tick_params(labelsize=10)

fig.savefig('out.png', dpi=300)
